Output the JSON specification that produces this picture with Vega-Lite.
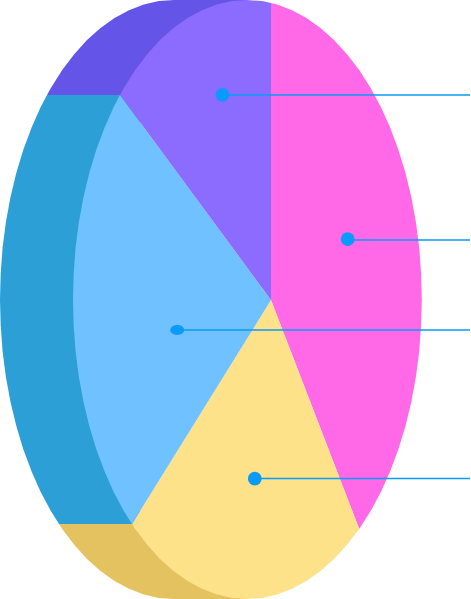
{"$schema":"https://vega.github.io/schema/vega-lite/v6.json","width":471,"height":599,"autosize":{"type":"fit","contains":"padding"},"padding":0,"background":"white","view":{"stroke":null},
"datasets":{
"back":[
{"s":"back1","i":0,"x":247,"y":0},{"s":"back1","i":1,"x":174,"y":0},{"s":"back1","i":2,"x":158.8,"y":1.1},{"s":"back1","i":3,"x":143.8,"y":4.5},{"s":"back1","i":4,"x":129,"y":10.2},{"s":"back1","i":5,"x":114.5,"y":18.1},{"s":"back1","i":6,"x":100.5,"y":28.1},{"s":"back1","i":7,"x":87,"y":40.1},{"s":"back1","i":8,"x":74.2,"y":54.2},{"s":"back1","i":9,"x":62.2,"y":70.1},{"s":"back1","i":10,"x":51,"y":87.7},{"s":"back1","i":11,"x":47,"y":95},{"s":"back1","i":12,"x":140,"y":95},
{"s":"back2","i":0,"x":140,"y":95},{"s":"back2","i":1,"x":47,"y":95},{"s":"back2","i":2,"x":40.7,"y":107},{"s":"back2","i":3,"x":31.5,"y":127.7},{"s":"back2","i":4,"x":23.3,"y":149.7},{"s":"back2","i":5,"x":16.3,"y":172.9},{"s":"back2","i":6,"x":10.5,"y":197.1},{"s":"back2","i":7,"x":5.9,"y":222},{"s":"back2","i":8,"x":2.6,"y":247.5},{"s":"back2","i":9,"x":0.7,"y":273.4},{"s":"back2","i":10,"x":0,"y":299.5},{"s":"back2","i":11,"x":0.7,"y":325.6},{"s":"back2","i":12,"x":2.6,"y":351.5},{"s":"back2","i":13,"x":5.9,"y":377},{"s":"back2","i":14,"x":10.5,"y":401.9},{"s":"back2","i":15,"x":16.3,"y":426.1},{"s":"back2","i":16,"x":23.3,"y":449.3},{"s":"back2","i":17,"x":31.5,"y":471.3},{"s":"back2","i":18,"x":40.7,"y":492},{"s":"back2","i":19,"x":51,"y":511.3},{"s":"back2","i":20,"x":59,"y":524},{"s":"back2","i":21,"x":140,"y":524},
{"s":"back3","i":0,"x":140,"y":524},{"s":"back3","i":1,"x":59,"y":524},{"s":"back3","i":2,"x":62.2,"y":528.9},{"s":"back3","i":3,"x":74.2,"y":544.8},{"s":"back3","i":4,"x":87,"y":558.9},{"s":"back3","i":5,"x":100.5,"y":570.9},{"s":"back3","i":6,"x":114.5,"y":580.9},{"s":"back3","i":7,"x":129,"y":588.8},{"s":"back3","i":8,"x":143.8,"y":594.5},{"s":"back3","i":9,"x":158.8,"y":597.9},{"s":"back3","i":10,"x":174,"y":599},{"s":"back3","i":11,"x":247,"y":599}
],
"front":[
{"s":"pink","i":0,"x":271,"y":300},{"s":"pink","i":1,"x":271,"y":3},{"s":"pink","i":2,"x":277.2,"y":4.5},{"s":"pink","i":3,"x":292,"y":10.2},{"s":"pink","i":4,"x":306.5,"y":18.1},{"s":"pink","i":5,"x":320.5,"y":28.1},{"s":"pink","i":6,"x":334,"y":40.1},{"s":"pink","i":7,"x":347,"y":54.2},{"s":"pink","i":8,"x":359.2,"y":70.1},{"s":"pink","i":9,"x":370.5,"y":87.7},{"s":"pink","i":10,"x":380.9,"y":107},{"s":"pink","i":11,"x":390.2,"y":127.7},{"s":"pink","i":12,"x":398.4,"y":149.7},{"s":"pink","i":13,"x":405.5,"y":172.9},{"s":"pink","i":14,"x":411.3,"y":197.1},{"s":"pink","i":15,"x":415.9,"y":222},{"s":"pink","i":16,"x":419.2,"y":247.5},{"s":"pink","i":17,"x":421.1,"y":273.4},{"s":"pink","i":18,"x":421.8,"y":299.5},{"s":"pink","i":19,"x":421.1,"y":325.6},{"s":"pink","i":20,"x":419.2,"y":351.5},{"s":"pink","i":21,"x":415.9,"y":377},{"s":"pink","i":22,"x":411.3,"y":401.9},{"s":"pink","i":23,"x":405.5,"y":426.1},{"s":"pink","i":24,"x":398.4,"y":449.3},{"s":"pink","i":25,"x":390.2,"y":471.3},{"s":"pink","i":26,"x":380.9,"y":492},{"s":"pink","i":27,"x":370.5,"y":511.3},{"s":"pink","i":28,"x":359.2,"y":528.9},
{"s":"yellow","i":0,"x":271,"y":300},{"s":"yellow","i":1,"x":359.2,"y":528.9},{"s":"yellow","i":2,"x":347,"y":544.8},{"s":"yellow","i":3,"x":334,"y":558.9},{"s":"yellow","i":4,"x":320.5,"y":570.9},{"s":"yellow","i":5,"x":306.5,"y":580.9},{"s":"yellow","i":6,"x":292,"y":588.8},{"s":"yellow","i":7,"x":277.2,"y":594.5},{"s":"yellow","i":8,"x":262.2,"y":597.9},{"s":"yellow","i":9,"x":247,"y":599},{"s":"yellow","i":10,"x":231.8,"y":597.9},{"s":"yellow","i":11,"x":216.8,"y":594.5},{"s":"yellow","i":12,"x":202,"y":588.8},{"s":"yellow","i":13,"x":187.5,"y":580.9},{"s":"yellow","i":14,"x":173.5,"y":570.9},{"s":"yellow","i":15,"x":160,"y":558.9},{"s":"yellow","i":16,"x":147.2,"y":544.8},{"s":"yellow","i":17,"x":135.2,"y":528.9},{"s":"yellow","i":18,"x":132,"y":524},
{"s":"sky","i":0,"x":271,"y":300},{"s":"sky","i":1,"x":132,"y":524},{"s":"sky","i":2,"x":124,"y":511.3},{"s":"sky","i":3,"x":113.7,"y":492},{"s":"sky","i":4,"x":104.5,"y":471.3},{"s":"sky","i":5,"x":96.3,"y":449.3},{"s":"sky","i":6,"x":89.3,"y":426.1},{"s":"sky","i":7,"x":83.5,"y":401.9},{"s":"sky","i":8,"x":78.9,"y":377},{"s":"sky","i":9,"x":75.6,"y":351.5},{"s":"sky","i":10,"x":73.7,"y":325.6},{"s":"sky","i":11,"x":73,"y":299.5},{"s":"sky","i":12,"x":73.7,"y":273.4},{"s":"sky","i":13,"x":75.6,"y":247.5},{"s":"sky","i":14,"x":78.9,"y":222},{"s":"sky","i":15,"x":83.5,"y":197.1},{"s":"sky","i":16,"x":89.3,"y":172.9},{"s":"sky","i":17,"x":96.3,"y":149.7},{"s":"sky","i":18,"x":104.5,"y":127.7},{"s":"sky","i":19,"x":113.7,"y":107},{"s":"sky","i":20,"x":120,"y":95},
{"s":"violet","i":0,"x":271,"y":300},{"s":"violet","i":1,"x":120,"y":95},{"s":"violet","i":2,"x":124,"y":87.7},{"s":"violet","i":3,"x":135.2,"y":70.1},{"s":"violet","i":4,"x":147.2,"y":54.2},{"s":"violet","i":5,"x":160,"y":40.1},{"s":"violet","i":6,"x":173.5,"y":28.1},{"s":"violet","i":7,"x":187.5,"y":18.1},{"s":"violet","i":8,"x":202,"y":10.2},{"s":"violet","i":9,"x":216.8,"y":4.5},{"s":"violet","i":10,"x":231.8,"y":1.1},{"s":"violet","i":11,"x":247,"y":0},{"s":"violet","i":12,"x":262.2,"y":1.1},{"s":"violet","i":13,"x":271,"y":3}
],
"leaders":[{"x":222,"x2":470,"y":95},{"x":347,"x2":470,"y":240},{"x":177,"x2":470,"y":330},{"x":254,"x2":470,"y":478.5}],
"dots":[{"x":222.5,"y":94.8},{"x":347.7,"y":239.2},{"x":254.8,"y":478.7}],
"flatdots":[{"x":177.3,"y":330}]
},
"encoding":{
"x":{"field":"x","type":"quantitative","axis":null,"scale":{"domain":[0,471],"nice":false,"zero":false}},
"y":{"field":"y","type":"quantitative","axis":null,"scale":{"domain":[599,0],"nice":false,"zero":false}}
},
"layer":[
{"data":{"name":"back"},"mark":{"type":"line","strokeWidth":0},"encoding":{"fill":{"field":"s","type":"nominal","legend":null,"scale":{"domain":["back1","back2","back3","pink","yellow","sky","violet"],"range":["#6455E8","#2CA0D6","#E3C25F","#FF69E8","#FDE28A","#70C1FF","#8B6CFF"]}},"order":{"field":"i","type":"quantitative"}}},
{"data":{"name":"front"},"mark":{"type":"line","strokeWidth":0},"encoding":{"fill":{"field":"s","type":"nominal","legend":null,"scale":{"domain":["back1","back2","back3","pink","yellow","sky","violet"],"range":["#6455E8","#2CA0D6","#E3C25F","#FF69E8","#FDE28A","#70C1FF","#8B6CFF"]}},"order":{"field":"i","type":"quantitative"}}},
{"data":{"name":"leaders"},"mark":{"type":"rule","color":"#0A9BF5","strokeWidth":1.5},"encoding":{"x2":{"field":"x2"}}},
{"data":{"name":"dots"},"mark":{"type":"point","filled":true,"opacity":1,"color":"#0A9BFA","size":190}},
{"data":{"name":"flatdots"},"mark":{"type":"point","filled":true,"opacity":1,"color":"#0A9BFA","size":196,"shape":"M-1,0A1,0.7,0,1,1,1,0A1,0.7,0,1,1,-1,0Z"}}
]}
